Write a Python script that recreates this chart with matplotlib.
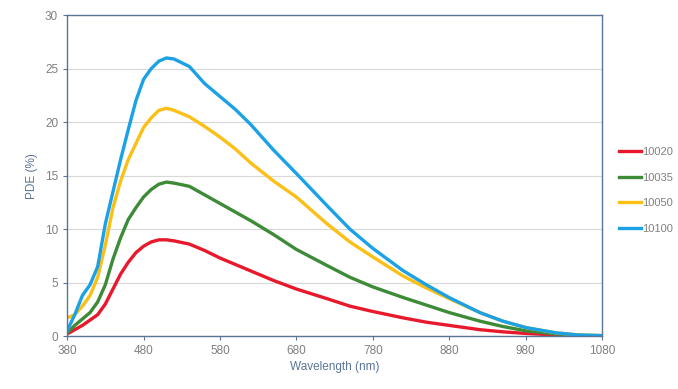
import numpy as np
import matplotlib
matplotlib.use("Agg")
import matplotlib.pyplot as plt

plt.rcParams['font.family'] = ['Liberation Sans', 'DejaVu Sans']

wl = [380, 390, 400, 410, 420, 430, 440, 450, 460, 470, 480, 490, 500, 510, 520,
      540, 560, 580, 600, 620, 650, 680, 720, 750, 780, 820, 850, 880, 920, 950,
      980, 1020, 1050, 1080]

pde_10020 = [0.2, 0.6, 1.0, 1.5, 2.0, 3.0, 4.4, 5.8, 6.9, 7.8, 8.4, 8.8, 9.0, 9.0, 8.9,
             8.6, 8.0, 7.3, 6.7, 6.1, 5.2, 4.4, 3.5, 2.8, 2.3, 1.7, 1.3, 1.0, 0.6, 0.4,
             0.25, 0.1, 0.05, 0.02]
pde_10035 = [0.3, 1.0, 1.6, 2.2, 3.2, 4.8, 7.2, 9.2, 10.9, 12.0, 13.0, 13.7, 14.2, 14.4, 14.3,
             14.0, 13.2, 12.4, 11.6, 10.8, 9.5, 8.1, 6.6, 5.5, 4.6, 3.6, 2.9, 2.2, 1.4, 0.9,
             0.5, 0.2, 0.07, 0.03]
pde_10050 = [1.7, 2.0, 2.8, 3.8, 5.5, 8.5, 12.0, 14.5, 16.5, 18.0, 19.5, 20.4, 21.1, 21.3, 21.1,
             20.5, 19.6, 18.6, 17.5, 16.2, 14.5, 13.0, 10.5, 8.8, 7.4, 5.6, 4.5, 3.5, 2.2, 1.4,
             0.8, 0.3, 0.1, 0.05]
pde_10100 = [0.5, 2.0, 3.8, 4.8, 6.5, 10.5, 13.5, 16.5, 19.3, 22.0, 24.0, 25.0, 25.7, 26.0, 25.9,
             25.2, 23.6, 22.4, 21.2, 19.8, 17.4, 15.2, 12.2, 10.0, 8.2, 6.1, 4.8, 3.6, 2.2, 1.4,
             0.8, 0.3, 0.1, 0.05]

labels = ['10020', '10035', '10050', '10100']
colors = ['#e8192c', '#3d8b37', '#fbbf16', '#1ba1e6']

fig = plt.figure(figsize=(6.78, 3.89), dpi=100)
ax = fig.add_axes([0.099, 0.136, 0.789, 0.825])

for y, lab, c in zip([pde_10020, pde_10035, pde_10050, pde_10100], labels, colors):
    ax.plot(wl, y, color=c, lw=2.4, label=lab, solid_joinstyle='round')

ax.set_xlim(380, 1080)
ax.set_ylim(0, 30)
ax.set_xticks(range(380, 1081, 100))
ax.set_yticks(range(0, 31, 5))
ax.grid(axis='y', color='#d8d8d8', lw=0.8)
ax.set_axisbelow(True)
for s in ax.spines.values():
    s.set_color('#5b7596')
    s.set_linewidth(1.0)
ax.tick_params(colors='#5b7596', labelcolor='#808080', labelsize=8.5, length=3, width=0.8)
ax.set_xlabel('Wavelength (nm)', color='#5b7596', fontsize=8.5, labelpad=3)
ax.set_ylabel('PDE (%)', color='#5b7596', fontsize=8.5, labelpad=5)

fig.legend(loc='center left', bbox_to_anchor=(0.905, 0.51), frameon=False,
           fontsize=8, handlelength=2.0, handletextpad=0.05, labelspacing=1.4,
           borderpad=0, labelcolor='#808080')

fig.savefig('out.png', dpi=100)
